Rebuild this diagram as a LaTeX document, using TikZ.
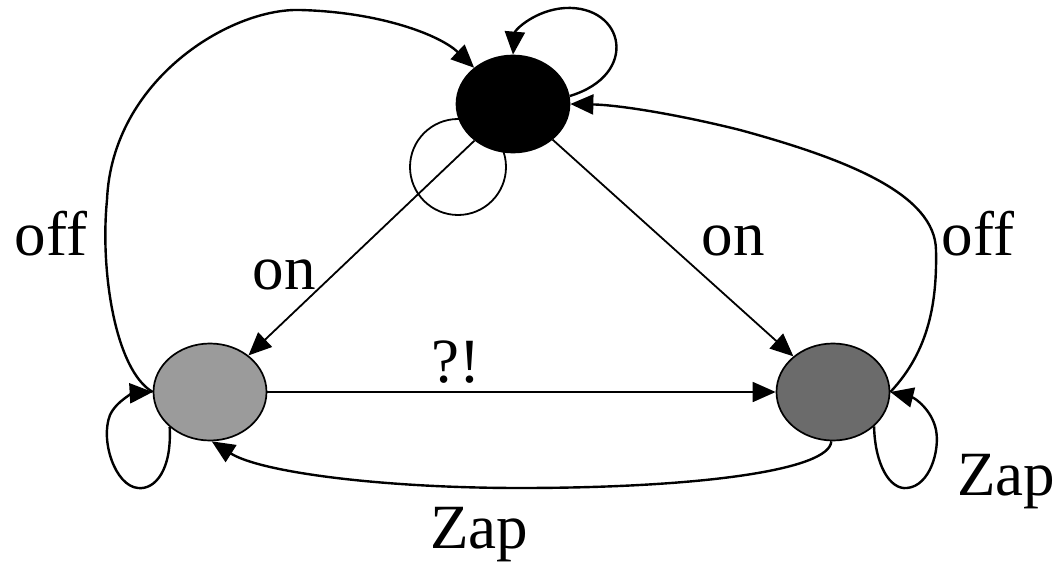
\documentclass[tikz,border=0pt]{standalone}
\usepackage{fontspec}
\setmainfont{Liberation Serif}
\usetikzlibrary{arrows.meta,shapes.geometric}
\begin{document}
\begin{tikzpicture}[x=1pt,y=-1pt,
  state/.style={ellipse,draw=black,line width=1.7pt,inner sep=0pt,minimum width=113pt,minimum height=97pt},
  arr/.style={-{Triangle[length=23pt,width=20pt]}},
  thinline/.style={line width=1.8pt},
  curve/.style={line width=2.4pt},
  lbl/.style={font=\fontsize{63}{70}\selectfont, inner sep=0pt, anchor=base}]
\useasboundingbox (0,0) rectangle (1063,567);
% plain circle behind the top state
\node[circle,draw,thinline,minimum size=96pt,inner sep=0pt] (ring) at (458,167) {};
% states
\node[state,fill=black] (T) at (513,104) {};
\node[state,fill={rgb,255:red,155;green,155;blue,155}] (L) at (210,392) {};
\node[state,fill={rgb,255:red,107;green,107;blue,107}] (R) at (833,392) {};
% straight transitions
\draw[thinline,arr] (T) -- (L);
\draw[thinline,arr] (T) -- (R);
\draw[thinline,arr] (L) -- (R);
% off (left)
\draw[curve,arr] (L.west) .. controls (115,370) and (100,270) .. (107,200)
   .. controls (112,80) and (230,8) .. (300,10)
   .. controls (380,12) and (440,35) .. (T.137);
% off (right)
\draw[curve,arr] (R.east) .. controls (930,350) and (937,300) .. (936,250)
   .. controls (935,195) and (850,160) .. (740,130)
   .. controls (680,115) and (620,105) .. (T.east);
% top self loop
\draw[curve,arr] (T.8) .. controls (640,75) and (625,5) .. (565,8)
   .. controls (535,10) and (515,30) .. (T.north);
% left self loop
\draw[curve,arr] (L.221) .. controls (172,470) and (155,490) .. (138,488)
   .. controls (115,486) and (100,440) .. (110,415)
   .. controls (117,400) and (135,393) .. (L.west);
% right self loop
\draw[curve,arr] (R.320) .. controls (875,465) and (890,490) .. (907,488)
   .. controls (930,486) and (940,450) .. (936,430)
   .. controls (932,410) and (915,398) .. (R.east);
% Zap (bottom)
\draw[curve,arr] (R.268) .. controls (830,470) and (700,488) .. (520,488)
   .. controls (380,488) and (260,472) .. (L.272);
% labels
\node[lbl] (offL) at (51,255) {off};
\node[lbl] (onL) at (284,289) {on};
\node[lbl] (onR) at (733,255) {on};
\node[lbl] (offR) at (978,255) {off};
\node[lbl] (q) at (456,382) {?!};
\node[lbl] (zapR) at (1006,495) {Zap};
\node[lbl] (zapB) at (479,548) {Zap};
\end{tikzpicture}
\end{document}
